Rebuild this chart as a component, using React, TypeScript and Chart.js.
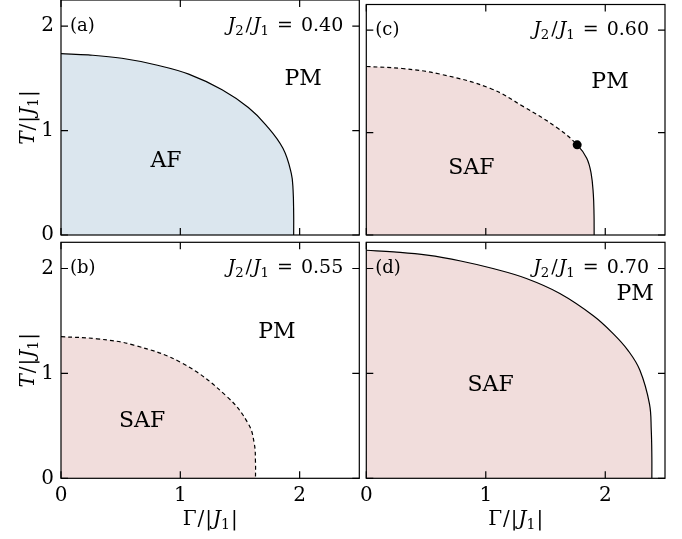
import React, { useEffect, useRef } from 'react';
import { Chart, registerables } from 'chart.js';

Chart.register(...registerables);

// ---------------- data ----------------
const xTicks = [0, 1, 2];
const yTicks = [0, 1, 2];
const xTickLabels = ['0', '1', '2'];
const yTickLabels = ['0', '1', '2'];
const gammaMax = 2.5;
const tempMax = 2.25;

// (a) J2/J1 = 0.40 : AF phase, continuous (solid) boundary
const gammaA = [0, 0.23, 0.51, 0.79, 1.07, 1.35, 1.57, 1.72, 1.86, 1.93, 1.945, 1.95, 1.95];
const tempA = [1.736, 1.724, 1.692, 1.63, 1.54, 1.39, 1.22, 1.05, 0.83, 0.59, 0.43, 0.2, 0];

// (b) J2/J1 = 0.55 : SAF phase, first-order (dashed) boundary
const gammaB = [0, 0.3, 0.61, 1.02, 1.39, 1.57, 1.62, 1.63, 1.63];
const tempB = [1.35, 1.33, 1.27, 1.095, 0.78, 0.52, 0.33, 0.15, 0];

// (c) J2/J1 = 0.60 : SAF phase, dashed up to the critical point, then solid
const gammaC = [0, 0.3, 0.62, 1.04, 1.32, 1.6, 1.765, 1.845, 1.882, 1.9, 1.906, 1.907];
const tempC = [1.645, 1.625, 1.57, 1.43, 1.25, 1.045, 0.88, 0.75, 0.6, 0.4, 0.2, 0];
const criticalIndexC = 6;

// (d) J2/J1 = 0.70 : SAF phase, solid boundary
const gammaD = [0, 0.23, 0.51, 0.79, 1.06, 1.34, 1.62, 1.9, 2.07, 2.19, 2.29, 2.37, 2.385, 2.39, 2.39];
const tempD = [2.174, 2.158, 2.127, 2.072, 2.0, 1.905, 1.762, 1.55, 1.375, 1.22, 1.03, 0.71, 0.46, 0.2, 0];

const panelLetters = ['(a)', '(b)', '(c)', '(d)'];
const ratioValues = ['0.40', '0.55', '0.60', '0.70'];
const phaseNames = [['PM', 'AF'], ['PM', 'SAF'], ['PM', 'SAF'], ['PM', 'SAF']];
const phaseGamma = [[2.03, 0.88], [1.81, 0.68], [2.04, 0.88], [2.25, 1.04]];
const phaseTemp = [[1.49, 0.71], [1.39, 0.54], [1.49, 0.65], [1.755, 0.89]];

// ---------------- styles ----------------
const FONT = '"DejaVu Serif", "Liberation Serif", serif';
const AF_FILL = '#dbe6ee';
const SAF_FILL = '#f1dddc';
const DASH = [4, 3];

type Seg = { t?: string; it?: boolean; sub?: boolean; gap?: number };

function drawMath(ctx: CanvasRenderingContext2D, segs: Seg[], x: number, y: number, size: number, align: 'left' | 'right' | 'center') {
  const fontFor = (s: Seg) => `${s.it ? 'italic ' : ''}${s.sub ? size * 0.7 : size}px ${FONT}`;
  const widths = segs.map((s) => {
    if (s.gap !== undefined) return s.gap;
    ctx.font = fontFor(s);
    return ctx.measureText(s.t || '').width;
  });
  const total = widths.reduce((a, b) => a + b, 0);
  let cx = align === 'left' ? x : align === 'right' ? x - total : x - total / 2;
  ctx.textAlign = 'left';
  ctx.textBaseline = 'alphabetic';
  segs.forEach((s, i) => {
    if (s.t) {
      ctx.font = fontFor(s);
      ctx.fillText(s.t, cx, y + (s.sub ? size * 0.22 : 0));
    }
    cx += widths[i];
  });
}

type PanelCfg = {
  idx: number;
  gamma: number[];
  temp: number[];
  fill: string;
  dashAll: boolean;
  crit: number | null;
  col: 0 | 1;
  row: 0 | 1;
};

const COLS = [
  { left: 61, right: 359.3 },
  { left: 366.3, right: 665 },
];
const ROWS = [
  { top: -1, bottom: 235 },
  { top: 242.3, bottom: 478.3 },
];
const W = 682;
const H = 539;

const panels: PanelCfg[] = [
  { idx: 0, gamma: gammaA, temp: tempA, fill: AF_FILL, dashAll: false, crit: null, col: 0, row: 0 },
  { idx: 1, gamma: gammaB, temp: tempB, fill: SAF_FILL, dashAll: true, crit: null, col: 0, row: 1 },
  { idx: 2, gamma: gammaC, temp: tempC, fill: SAF_FILL, dashAll: false, crit: criticalIndexC, col: 1, row: 0 },
  { idx: 3, gamma: gammaD, temp: tempD, fill: SAF_FILL, dashAll: false, crit: null, col: 1, row: 1 },
];

function Panel({ cfg }: { cfg: PanelCfg }) {
  const ref = useRef<HTMLCanvasElement>(null);
  useEffect(() => {
    const canvas = ref.current!;
    const col = COLS[cfg.col];
    const row = ROWS[cfg.row];
    const showY = cfg.col === 0;
    const showX = cfg.row === 1;
    const yAxisW = 61;
    const xAxisH = 40;
    const padding = {
      left: showY ? col.left - yAxisW : col.left,
      right: W - col.right,
      top: row.top,
      bottom: showX ? H - row.bottom - xAxisH : H - row.bottom,
    };

    const points = cfg.gamma.map((g, i) => ({ x: g, y: cfg.temp[i] }));
    const crit = cfg.crit;
    const datasets: any[] = [];
    if (crit !== null) {
      datasets.push({
        data: [{ x: cfg.gamma[crit], y: cfg.temp[crit] }],
        showLine: false,
        pointRadius: 4.5,
        pointBackgroundColor: '#000',
        pointBorderWidth: 0,
        fill: false,
      });
    }
    // boundary line
    datasets.push({
      data: points,
      borderColor: '#000',
      borderWidth: 1.2,
      fill: false,
      pointRadius: 0,
      tension: 0.4,
      borderDash: cfg.dashAll ? DASH : [],
      segment: crit !== null ? { borderDash: (c: any) => (c.p1DataIndex <= crit ? DASH : undefined) } : undefined,
    });
    // ordered-phase region
    datasets.push({
      data: points,
      borderColor: 'rgba(0,0,0,0)',
      borderWidth: 0,
      backgroundColor: cfg.fill,
      fill: 'origin',
      pointRadius: 0,
      tension: 0.4,
    });

    const decor = {
      id: 'decor',
      afterDraw(chart: any) {
        const ctx: CanvasRenderingContext2D = chart.ctx;
        const { left, right, top, bottom } = chart.chartArea;
        const xs = chart.scales.x;
        const ys = chart.scales.y;
        ctx.save();
        ctx.strokeStyle = '#000';
        ctx.fillStyle = '#000';
        ctx.lineWidth = 1.2;
        // ticks (inside, all four sides)
        const tl = 7;
        ctx.beginPath();
        xTicks.forEach((v) => {
          const px = xs.getPixelForValue(v);
          ctx.moveTo(px, bottom);
          ctx.lineTo(px, bottom - tl);
          ctx.moveTo(px, top);
          ctx.lineTo(px, top + tl);
        });
        yTicks.forEach((v) => {
          const py = ys.getPixelForValue(v);
          ctx.moveTo(left, py);
          ctx.lineTo(left + tl, py);
          ctx.moveTo(right, py);
          ctx.lineTo(right - tl, py);
        });
        ctx.stroke();
        ctx.strokeRect(left, top, right - left, bottom - top);

        // annotations
        const y2 = ys.getPixelForValue(2) + 4.5;
        drawMath(ctx, [{ t: panelLetters[cfg.idx] }], left + 9, y2, 18, 'left');
        drawMath(
          ctx,
          [
            { t: 'J', it: true },
            { t: '2', sub: true },
            { gap: 2 },
            { t: '/' },
            { gap: 1 },
            { t: 'J', it: true },
            { t: '1', sub: true },
            { gap: 8 },
            { t: '=' },
            { gap: 8 },
            { t: ratioValues[cfg.idx] },
          ],
          right - 16,
          y2,
          19,
          'right'
        );
        // phase labels
        ctx.font = `22px ${FONT}`;
        ctx.textAlign = 'center';
        ctx.textBaseline = 'middle';
        phaseNames[cfg.idx].forEach((name, i) => {
          ctx.fillText(name, xs.getPixelForValue(phaseGamma[cfg.idx][i]), ys.getPixelForValue(phaseTemp[cfg.idx][i]));
        });
        // axis titles
        if (showX) {
          drawMath(
            ctx,
            [{ t: 'Γ' }, { gap: 1 }, { t: '/' }, { gap: 1 }, { t: '|' }, { gap: 1 }, { t: 'J', it: true }, { t: '1', sub: true }, { gap: 1 }, { t: '|' }],
            (left + right) / 2,
            525,
            20,
            'center'
          );
        }
        if (showY) {
          ctx.translate(34, (top + bottom) / 2);
          ctx.rotate(-Math.PI / 2);
          drawMath(
            ctx,
            [{ t: 'T', it: true }, { gap: 1 }, { t: '/' }, { gap: 1 }, { t: '|' }, { gap: 1 }, { t: 'J', it: true }, { t: '1', sub: true }, { gap: 1 }, { t: '|' }],
            0,
            0,
            20,
            'center'
          );
        }
        ctx.restore();
      },
    };

    const chart = new Chart(canvas, {
      type: 'line',
      data: { datasets },
      options: {
        animation: false,
        responsive: false,
        events: [],
        layout: { padding },
        plugins: { legend: { display: false }, tooltip: { enabled: false } },
        scales: {
          x: {
            type: 'linear',
            min: 0,
            max: gammaMax,
            display: showX,
            grid: { display: false, drawTicks: false },
            border: { display: false },
            ticks: {
              padding: 5,
              color: '#000',
              font: { family: FONT, size: 20 },
              autoSkip: false,
              maxRotation: 0,
              callback: (v: any) => {
                const i = xTicks.indexOf(Number(v));
                return i >= 0 ? xTickLabels[i] : '';
              },
            },
            afterBuildTicks: (s: any) => {
              s.ticks = xTicks.map((v) => ({ value: v }));
            },
            afterFit: (s: any) => {
              if (!showX) return;
              s.height = xAxisH;
              s.paddingLeft = 0;
              s.paddingRight = 0;
            },
          },
          y: {
            type: 'linear',
            min: 0,
            max: tempMax,
            display: showY,
            grid: { display: false, drawTicks: false },
            border: { display: false },
            ticks: {
              padding: 7,
              color: '#000',
              font: { family: FONT, size: 20 },
              autoSkip: false,
              callback: (v: any) => {
                const i = yTicks.indexOf(Number(v));
                return i >= 0 ? yTickLabels[i] : '';
              },
            },
            afterBuildTicks: (s: any) => {
              s.ticks = yTicks.map((v) => ({ value: v }));
            },
            afterFit: (s: any) => {
              if (!showY) return;
              s.width = yAxisW;
              s.paddingTop = 0;
              s.paddingBottom = 0;
            },
          },
        },
      } as any,
      plugins: [decor],
    });
    return () => chart.destroy();
  }, []);
  return <canvas ref={ref} width={W} height={H} style={{ position: 'absolute', left: 0, top: 0, width: W, height: H }} />;
}

export default function App() {
  return (
    <div style={{ position: 'fixed', left: 0, top: 0, width: W, height: H, background: '#fff', overflow: 'hidden' }}>
      {panels.map((p) => (
        <Panel key={p.idx} cfg={p} />
      ))}
    </div>
  );
}
